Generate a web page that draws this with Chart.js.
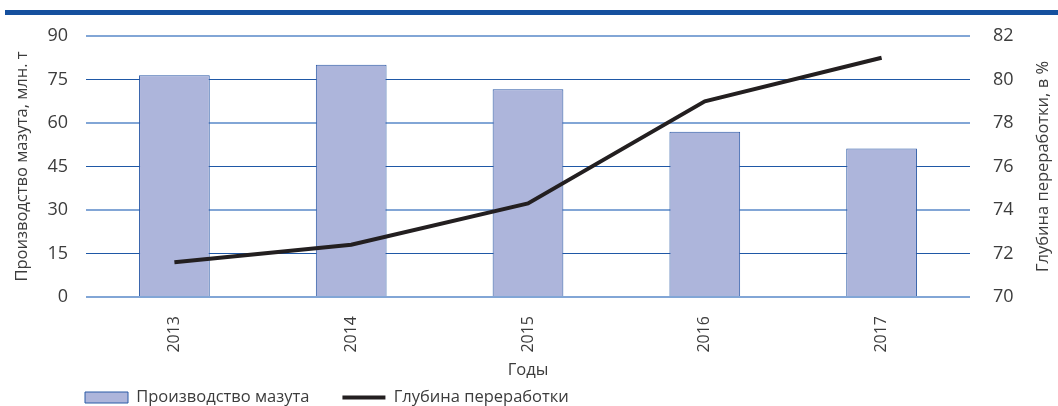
<!DOCTYPE html>
<html lang="ru">
<head>
<meta charset="UTF-8">
<title>Производство мазута</title>
<script src="https://cdn.jsdelivr.net/npm/chart.js@4.4.1/dist/chart.umd.min.js"></script>
<style>
  body { margin: 0; background: #fff; }
  #wrap { position: relative; width: 1058px; height: 406px; }
  #band { position: absolute; left: 5px; top: 10px; width: 1053px; height: 5px; background: #15509e; }
</style>
</head>
<body>
<div id="wrap">
  <div id="band"></div>
  <canvas id="chart" width="1058" height="406"></canvas>
</div>
<script>
const years = ['2013', '2014', '2015', '2016', '2017'];
const fuelOil = [76.5, 80.1, 71.6, 57.0, 51.2];      // млн. т
const refiningDepth = [71.6, 72.4, 74.3, 79.0, 81.0]; // %

const FONT = '"Open Sans", "Noto Sans", sans-serif';
const TXT = '#3c3c3c';
const LEG_PAD = 33;
const rightTitle = 'Глубина переработки, в %';

// legend sits lower-left, right axis title reads bottom-to-top like the left one
const tweaks = {
  id: 'tweaks',
  afterLayout(chart) {
    const lg = chart.legend;
    const w = lg.right - lg.left;
    lg.left = 85 - LEG_PAD;
    lg.right = lg.left + w;
    lg.top = 397.5 - LEG_PAD - 8.25;
  },
  afterDraw(chart) {
    const ctx = chart.ctx;
    const area = chart.chartArea;
    ctx.save();
    ctx.translate(1043, (area.top + area.bottom) / 2);
    ctx.rotate(-Math.PI / 2);
    ctx.font = '16.5px ' + FONT;
    ctx.fillStyle = TXT;
    ctx.textAlign = 'center';
    ctx.textBaseline = 'middle';
    ctx.fillText(rightTitle, 0, 0);
    ctx.restore();
  }
};

new Chart(document.getElementById('chart'), {
  type: 'bar',
  data: {
    labels: years,
    datasets: [
      {
        label: 'Производство мазута',
        data: fuelOil,
        yAxisID: 'y',
        backgroundColor: '#adb5db',
        borderColor: '#2b5aa6',
        borderWidth: 1,
        barPercentage: 0.4,
        categoryPercentage: 1,
        order: 1
      },
      {
        type: 'line',
        label: 'Глубина переработки',
        data: refiningDepth,
        yAxisID: 'y1',
        borderColor: '#231f20',
        backgroundColor: '#231f20',
        borderWidth: 4,
        pointRadius: 0,
        tension: 0,
        order: 0
      }
    ]
  },
  options: {
    responsive: false,
    animation: false,
    layout: { padding: { top: 36, left: 0, right: 0, bottom: 0 } },
    plugins: {
      tooltip: { enabled: false },
      legend: {
        position: 'bottom',
        align: 'start',
        maxHeight: 24,
        labels: {
          usePointStyle: true,
          pointStyleWidth: 43,
          boxWidth: 43,
          boxHeight: 11,
          padding: LEG_PAD,
          color: TXT,
          font: { family: FONT, size: 16.5 },
          generateLabels(chart) {
            return chart.data.datasets.map((ds, i) => ({
              text: ds.label,
              datasetIndex: i,
              fillStyle: ds.backgroundColor,
              strokeStyle: ds.borderColor,
              lineWidth: ds.type === 'line' ? 4 : 1,
              pointStyle: ds.type === 'line' ? 'line' : 'rect',
              fontColor: TXT
            }));
          }
        }
      }
    },
    scales: {
      x: {
        offset: true,
        grid: { display: false },
        border: { display: false },
        afterFit(axis) { axis.height = 85; },
        ticks: {
          color: TXT,
          font: { family: FONT, size: 16 },
          minRotation: 90,
          maxRotation: 90,
          autoSkip: false,
          padding: 11
        },
        title: {
          display: true,
          text: 'Годы',
          color: TXT,
          font: { family: FONT, size: 16.5 },
          padding: { top: 0, bottom: 2 }
        }
      },
      y: {
        position: 'left',
        min: 0,
        max: 90,
        afterFit(axis) { axis.width = 86; },
        ticks: {
          stepSize: 15,
          color: TXT,
          font: { family: FONT, size: 18 },
          padding: 18
        },
        grid: {
          drawTicks: false,
          color: ctx => ctx.index % 2 === 0 ? '#82a6d6' : '#1f58a6',
          lineWidth: ctx => ctx.index % 2 === 0 ? 2 : 1
        },
        border: { display: false },
        title: {
          display: true,
          text: 'Производство мазута, млн. т',
          color: TXT,
          font: { family: FONT, size: 16.5 },
          padding: { top: 12, bottom: 0 }
        }
      },
      y1: {
        position: 'right',
        min: 70,
        max: 82,
        afterFit(axis) { axis.width = 88; },
        ticks: {
          stepSize: 2,
          color: TXT,
          font: { family: FONT, size: 18 },
          padding: 23
        },
        grid: { display: false, drawTicks: false },
        border: { display: false }
      }
    }
  },
  plugins: [tweaks]
});
</script>
</body>
</html>
